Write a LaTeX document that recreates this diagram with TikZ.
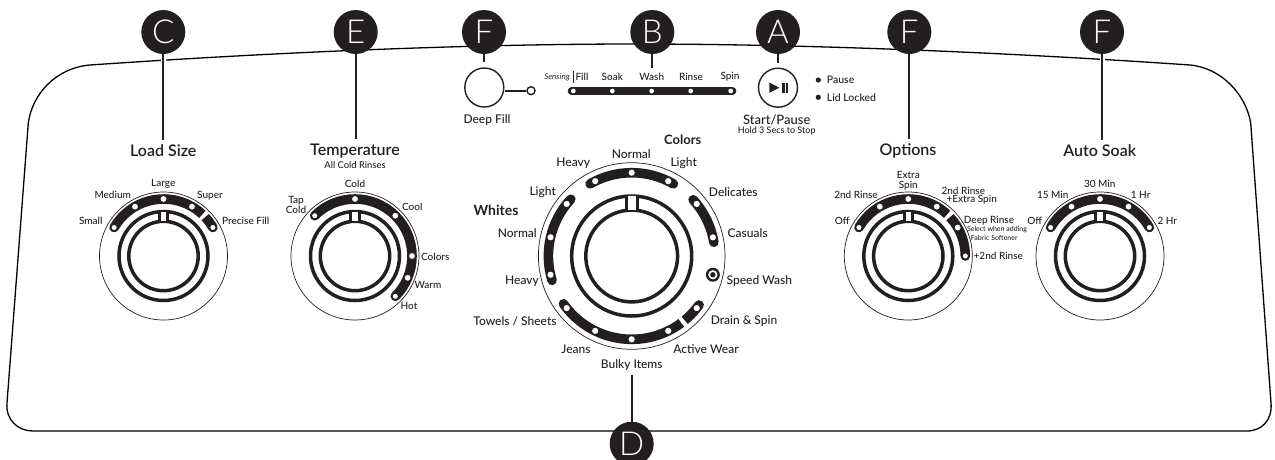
\documentclass[tikz,border=0pt]{standalone}
\usepackage{fontspec}
\setmainfont{Lato Medium}[BoldFont={Lato Bold},ItalicFont={Lato Italic}]
\newfontfamily\badgefont{Lato Light}
\newfontfamily\titlefont{Lato Semibold}
\definecolor{ink}{HTML}{231F20}
\newcommand\fs[1]{\fontsize{#1}{#1}\selectfont}
\tikzset{
  x=1pt,y=1pt,
  lbl/.style={inner sep=0pt,text=ink,font=\fs{10},align=center},
  sml/.style={inner sep=0pt,text=ink,font=\fs{7}},
  ttl/.style={inner sep=0pt,text=ink,font=\titlefont\fs{16}},
  mid/.style={inner sep=0pt,text=ink,font=\fs{12}},
  badge/.style={circle,fill=ink,text=white,inner sep=0pt,minimum size=44pt,font=\badgefont\fs{33}},
  leader/.style={draw=ink,line width=2pt,shorten >=5pt,preaction={draw=white,line width=5pt}},
  shell/.style={draw=black,line width=1.3pt},
  band/.style={draw=ink,line cap=round,line width=9.6pt},
  bandflat/.style={draw=ink,line width=9.6pt},
  dot/.style={fill=white},
  enddot/.style={fill=white,draw=ink,line width=1.2pt},
  rim/.style={circle,draw=ink,line width=0.7pt,inner sep=0pt},
  btn/.style={circle,draw=ink,line width=1.4pt,inner sep=0pt,minimum size=39pt},
}
% rings: cx, cy, r outer, r inner, half width of black slot, half width of white slot
\newcommand\knobrings[6]{%
  \draw[ink,line width=3.5pt] (#1,#2) circle (#3) (#1,#2) circle (#4);
  \fill[ink] (#1-#5,#2+#4) rectangle (#1+#5,#2+#3);
  \fill[white] (#1-#6,#2+#4) rectangle (#1+#6,#2+#3);
}
\begin{document}
\begin{tikzpicture}
\clip (0,0) rectangle (1275,-459);
% panel outline
\draw[shell] (90,-65) .. controls (250,-54) and (450,-44) .. (636,-44)
  .. controls (822,-44) and (1030,-54) .. (1190,-65)
  .. controls (1222,-68) and (1246,-95) .. (1250.7,-123)
  -- (1271,-403) .. controls (1272.5,-420) and (1262,-431) .. (1246.7,-431)
  -- (33,-431) .. controls (18,-431) and (5.5,-420) .. (7,-403)
  -- (28.3,-123) .. controls (32,-95) and (55,-68) .. (90,-65);

% ---------- Load Size
\node[rim,minimum size=128pt] (dLoad) at (163.5,-256) {};
\knobrings{163.5}{-256}{44.5}{34.7}{5.8}{2.6}
\begin{scope}[shift={(163.5,-256)}]
  \draw[band] (150:57) arc[start angle=150,end angle=60,radius=57];
  \draw[bandflat] (60:57) arc[start angle=60,end angle=47,radius=57];
  \draw[band] (30:57) arc[start angle=30,end angle=35,radius=57];
  \draw[bandflat] (35:57) arc[start angle=35,end angle=43,radius=57];
  \foreach \a in {120,90,60} \fill[dot] (\a:57) circle (2.9);
  \foreach \a in {150,30} \filldraw[enddot] (\a:57) circle (3.3);
\end{scope}
\node[ttl] (tLoad) at (163.3,-151) {Load Size};
\node[lbl] (l1) at (163.3,-184) {Large};
\node[lbl] (l2) at (112.7,-195) {Medium};
\node[lbl] (l3) at (210,-195.7) {Super};
\node[lbl] (l4) at (90.7,-220.7) {Small};
\node[lbl] (l5) at (245.7,-220.7) {Precise Fill};

% ---------- Temperature
\node[rim,minimum size=128pt] (dTemp) at (355,-256) {};
\knobrings{355}{-256}{44.5}{34.7}{5.8}{2.6}
\begin{scope}[shift={(355,-256)}]
  \draw[band] (135:57) arc[start angle=135,end angle=-45,radius=57];
  \foreach \a in {90,45,0,-22.5} \fill[dot] (\a:57) circle (2.9);
  \foreach \a in {135,-45} \filldraw[enddot] (\a:57) circle (3.3);
\end{scope}
\node[ttl] (tTemp) at (355,-151) {Temperature};
\node[sml,font=\fs{9.4}] (tTempS) at (355,-164.7) {All Cold Rinses};
\node[lbl] (t1) at (355,-184) {Cold};
\node[lbl] (t2) at (296,-205.2) {Tap\\Cold};
\node[lbl] (t3) at (412.3,-207.3) {Cool};
\node[lbl] (t4) at (435.3,-257) {Colors};
\node[lbl] (t5) at (428,-285.3) {Warm};
\node[lbl] (t6) at (409,-306.3) {Hot};

% ---------- Main cycle dial
\node[rim,minimum size=186.6pt] (dMain) at (631.7,-256) {};
\knobrings{631.7}{-256}{60}{45.9}{6.8}{3.8}
\begin{scope}[shift={(631.7,-256)}]
  \draw[band] (120:83.3) arc[start angle=120,end angle=60,radius=83.3];
  \draw[band] (42.5:83.3) arc[start angle=42.5,end angle=9.5,radius=83.3];
  \draw[band] (-36:83.3) arc[start angle=-36,end angle=-40,radius=83.3];
  \draw[bandflat] (-40:83.3) arc[start angle=-40,end angle=-50.5,radius=83.3];
  \draw[bandflat] (-53.5:83.3) arc[start angle=-53.5,end angle=-70,radius=83.3];
  \draw[band] (-70:83.3) arc[start angle=-70,end angle=-145,radius=83.3];
  \draw[band] (137:83.3) arc[start angle=137,end angle=197,radius=83.3];
  \foreach \a in {116,90,64,38.7,12.9,-38.7,-64,-90,-116,-141.3,193,167,141.3}
    \fill[dot] (\a:83.3) circle (3.1);
  \fill[ink] (-13:83.3) circle (7);
  \fill[white] (-13:83.3) circle (4.6);
  \fill[ink] (-13:83.3) circle (2.7);
\end{scope}
\node[mid,font=\fs{13}\bfseries] (mCol) at (682.7,-140) {Colors};
\node[mid,font=\fs{14}\bfseries] (mWhi) at (496,-210.7) {Whites};
\node[mid] (m1) at (631.3,-154) {Normal};
\node[mid] (m2) at (573.3,-163.3) {Heavy};
\node[mid] (m3) at (683.7,-163.3) {Light};
\node[mid] (m4) at (542.7,-192) {Light};
\node[mid] (m5) at (733.3,-192) {Delicates};
\node[mid] (m6) at (517.3,-233) {Normal};
\node[mid] (m7) at (747.7,-233) {Casuals};
\node[mid] (m8) at (522,-281.3) {Heavy};
\node[mid] (m9) at (759.3,-281) {Speed Wash};
\node[mid] (m10) at (515,-321) {Towels / Sheets};
\node[mid] (m11) at (744,-321) {Drain \& Spin};
\node[mid] (m12) at (576,-349) {Jeans};
\node[mid] (m13) at (706,-349) {Active Wear};
\node[mid] (tBulky) at (631.7,-364.7) {Bulky Items};

% ---------- Options
\node[rim,minimum size=128pt] (dOpt) at (908.3,-256) {};
\knobrings{908.3}{-256}{44.5}{34.7}{5.8}{2.6}
\begin{scope}[shift={(908.3,-256)}]
  \draw[band] (150:57) arc[start angle=150,end angle=60,radius=57];
  \draw[bandflat] (60:57) arc[start angle=60,end angle=47,radius=57];
  \draw[bandflat] (43:57) arc[start angle=43,end angle=20,radius=57];
  \draw[band] (20:57) arc[start angle=20,end angle=0,radius=57];
  \foreach \a in {120,90,60,30} \fill[dot] (\a:57) circle (2.9);
  \foreach \a in {150,0} \filldraw[enddot] (\a:57) circle (3.3);
\end{scope}
\node[ttl] (tOpt) at (908,-151) {Options};
\node[lbl] (o1) at (908.3,-181) {Extra\\Spin};
\node[lbl] (o2) at (856,-195.3) {2nd Rinse};
\node[lbl] (o3) at (963.3,-190.7) {2nd Rinse};
\node[lbl] (o4) at (971.7,-200) {+Extra Spin};
\node[lbl] (o5) at (842.3,-220.7) {Off};
\node[lbl] (o6) at (989,-220.7) {Deep Rinse};
\node[sml] (o7) at (997,-230) {Select when adding};
\node[sml] (o8) at (994.3,-237.7) {Fabric Softener};
\node[lbl] (o9) at (998.3,-255.7) {+2nd Rinse};

% ---------- Auto Soak
\node[rim,minimum size=128pt] (dSoak) at (1100,-256) {};
\knobrings{1100}{-256}{44.5}{34.7}{5.8}{2.6}
\begin{scope}[shift={(1100,-256)}]
  \draw[band] (150:57) arc[start angle=150,end angle=30,radius=57];
  \foreach \a in {120,90,60} \fill[dot] (\a:57) circle (2.9);
  \foreach \a in {150,30} \filldraw[enddot] (\a:57) circle (3.3);
\end{scope}
\node[ttl] (tSoak) at (1099.7,-151) {Auto Soak};
\node[lbl] (s1) at (1099.7,-184) {30 Min};
\node[lbl] (s2) at (1052.7,-195.3) {15 Min};
\node[lbl] (s3) at (1140.7,-195.3) {1 Hr};
\node[lbl] (s4) at (1034.7,-220.7) {Off};
\node[lbl] (s5) at (1167.3,-220.7) {2 Hr};

% ---------- Deep Fill
\node[btn] (bDeep) at (484.3,-87.5) {};
\node[circle,draw=ink,line width=1.4pt,inner sep=0pt,minimum size=8pt] (bLamp) at (531,-90.7) {};
\draw[ink,line width=1.6pt] (bDeep.east |- bLamp) -- (bLamp);
\node[mid] (tDeep) at (487,-120) {Deep Fill};

% ---------- Progress
\node[sml,font=\fs{8}\itshape] (pSens) at (557,-77) {Sensing};
\coordinate (pBarT) at (573.3,-71);
\coordinate (pBarB) at (573.3,-83);
\draw[ink,line width=0.8pt] (pBarT) -- (pBarB);
\node[lbl] (p1) at (582,-77) {Fill};
\node[lbl] (p2) at (612.3,-77) {Soak};
\node[lbl] (tWash) at (651.7,-77) {Wash};
\node[lbl] (p4) at (691,-77) {Rinse};
\node[lbl] (p5) at (730,-77) {Spin};
\coordinate (pL) at (571.5,-91);
\coordinate (pR) at (732.5,-91);
\draw[ink,line width=7.6pt,line cap=round] (pL) -- (pR);
\foreach \x in {573.3,612.3,651.7,690.7,730.7} \fill[white] (\x,-91) circle (2.4);

% ---------- Start / Pause
\node[btn] (bStart) at (778,-87.7) {};
\fill[ink] (769.3,-82.5) -- (779.3,-87.7) -- (769.3,-92.9) -- cycle;
\fill[ink] (782.3,-82.5) rectangle (784.5,-92.9);
\fill[ink] (786,-82.5) rectangle (788.2,-92.9);
\node[mid,font=\fs{13}] (tStart) at (776.7,-120) {Start/Pause};
\node[sml,font=\fs{9}] (tHold) at (776.7,-131) {Hold 3 Secs to Stop};
\fill[ink] (818.3,-80) circle (2.6);
\fill[ink] (818.3,-97.3) circle (2.6);
\node[lbl,anchor=west,font=\fs{10.5}] (i1) at (826.7,-80) {Pause};
\node[lbl,anchor=west,font=\fs{10.5}] (i2) at (826.7,-97.3) {Lid Locked};

% ---------- Badges and leaders
\node[badge] (bC) at (163.3,-32) {C};
\node[badge] (bE) at (355.7,-32) {E};
\node[badge] (bFa) at (484,-32) {F};
\node[badge] (bB) at (652.3,-32) {B};
\node[badge] (bA) at (778,-32) {A};
\node[badge] (bFb) at (909.3,-32) {F};
\node[badge] (bFc) at (1102,-32) {F};
\node[badge] (bD) at (631.7,-443.7) {D};
\draw[leader] (bC.south) -- (bC |- tLoad.north);
\draw[leader] (bE.south) -- (bE |- tTemp.north);
\draw[leader] (bFa.south) -- (bFa |- bDeep.north);
\draw[leader] (bB.south) -- (bB |- tWash.north);
\draw[leader] (bA.south) -- (bA |- bStart.north);
\draw[leader] (bFb.south) -- (bFb |- tOpt.north);
\draw[leader] (bFc.south) -- (bFc |- tSoak.north);
\draw[leader] (bD.north) -- (bD |- tBulky.south);
\end{tikzpicture}
\end{document}
